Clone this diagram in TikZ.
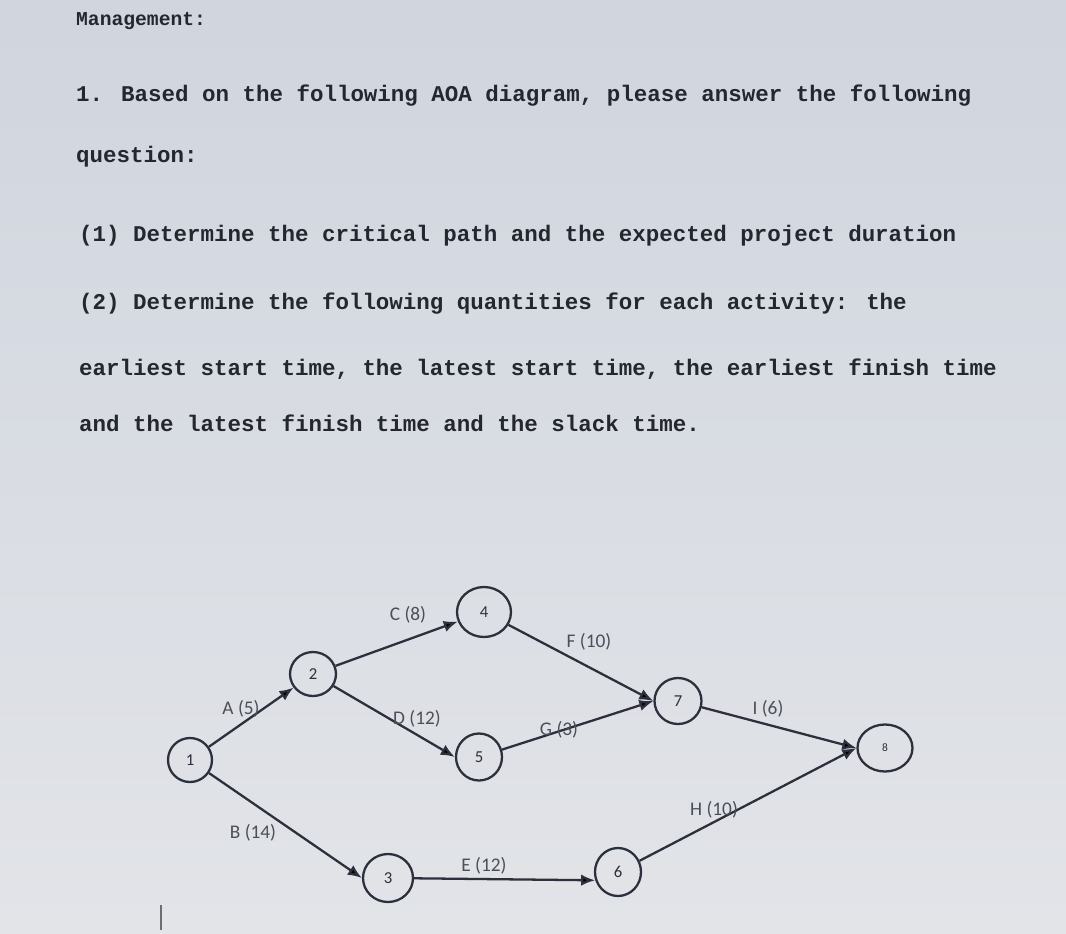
\documentclass[tikz,border=0pt]{standalone}
\usepackage{fontspec}
\setmainfont{Carlito}
\newfontfamily\qfont{Liberation Mono}
\usetikzlibrary{arrows.meta,shapes.geometric}

\definecolor{screen}{HTML}{D0D5DE}
\definecolor{screenlow}{HTML}{E2E4E8}
\definecolor{ink}{HTML}{24272F}
\definecolor{pen}{HTML}{2B303C}

\begin{document}
\begin{tikzpicture}[
            x = 0.02cm, y = -0.02cm, % one unit is one pixel of the photo
            > = {Latex[length=8pt,width=6.5pt]}, % arrow head style
            line width = 1.3pt, % line style
            event/.style = {shape=ellipse, draw=pen, inner sep=0pt,
                minimum width=0.92cm, minimum height=0.92cm,
                font=\fontsize{9.5}{10}\selectfont, text=pen},
            lbl/.style = {inner sep=0pt, font=\fontsize{11}{11}\selectfont, text=pen!85},
            qline/.style = {anchor=base west, inner sep=0pt,
                font=\qfont\bfseries\fontsize{12.8}{13}\selectfont, text=ink}
        ]
\shade[top color=screen, bottom color=screenlow] (0,0) rectangle (1066,934);
\useasboundingbox (0,0) rectangle (1066,934);

% question text
\node[qline, font=\qfont\bfseries\fontsize{11.2}{12}\selectfont] (head) at (75,25) {Management:};
\node[qline] (q1) at (75,101) {1. Based on the following AOA diagram, please answer the following};
\node[qline] (q1b) at (75,162) {question:};
\node[qline] (q2) at (78,241) {(1) Determine the critical path and the expected project duration};
\node[qline] (q3) at (78,309) {(2) Determine the following quantities for each activity: the};
\node[qline] (q3b) at (78,375) {earliest start time, the latest start time, the earliest finish time};
\node[qline] (q3c) at (78,431) {and the latest finish time and the slack time.};

% events
\node[event, minimum width=0.88cm, minimum height=0.88cm] (n1) at (190,760) {1};
\node[event, minimum height=0.88cm] (n2) at (313,674) {2};
\node[event, minimum width=1cm, minimum height=0.96cm] (n3) at (388,878) {3};
\node[event, minimum width=1.08cm, minimum height=1cm] (n4) at (484,612) {4};
\node[event, minimum height=0.94cm] (n5) at (479,757) {5};
\node[event, minimum height=0.96cm] (n6) at (618,872) {6};
\node[event, minimum width=0.94cm] (n7) at (678,701) {7};
\node[event, minimum width=1.1cm, minimum height=0.94cm, font=\fontsize{6.5}{7}\selectfont] (n8) at (885,748) {8};

% activities
\path [->, draw=pen] (n1) edge (n2);
\path [->, draw=pen] (n1) edge (n3.west);
\path [->, draw=pen] (n2) edge (n4);
\path [->, draw=pen] (n2) edge (n5.west);
\path [->, draw=pen] (n3) edge (n6.200);
\path [->, draw=pen] (n4) edge (n7.west);
\path [->, draw=pen] (n5) edge (n7.west);
\path [->, draw=pen] (n6) edge (n8.west);
\path [->, draw=pen] (n7) edge (n8.west);

\node[lbl] (lA) at (241,709) {A (5)};
\node[lbl] (lB) at (253,833) {B (14)};
\node[lbl] (lC) at (408,615) {C (8)};
\node[lbl] (lD) at (417,719) {D (12)};
\node[lbl] (lE) at (484,866) {E (12)};
\node[lbl] (lF) at (589,642) {F (10)};
\node[lbl] (lG) at (559,730) {G (3)};
\node[lbl] (lH) at (714,810) {H (10)};
\node[lbl] (lI) at (768,709) {I (6)};

% cursor
\draw[pen!70, line width=0.6pt] (161,905) -- (161,930);
\end{tikzpicture}
\end{document}
